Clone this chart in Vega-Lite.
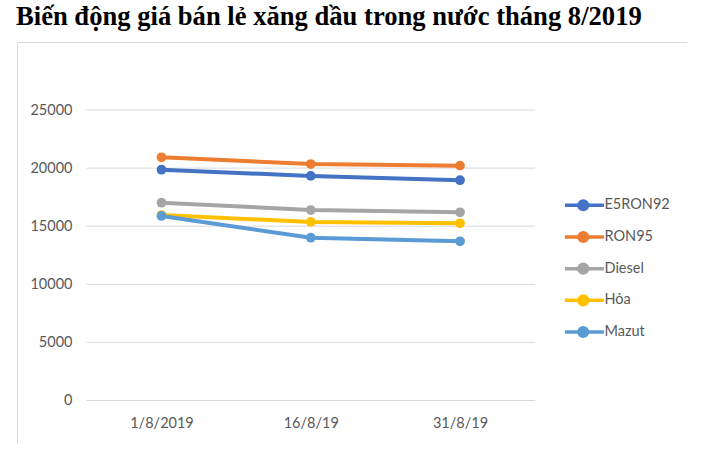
{
  "$schema": "https://vega.github.io/schema/vega-lite/v6.json",
  "width": 670,
  "height": 402,
  "autosize": "none",
  "padding": {"left": 17, "top": 42, "right": 0, "bottom": 0},
  "background": "white",
  "title": {
    "text": "Biến động giá bán lẻ xăng dầu trong nước tháng 8/2019",
    "anchor": "start",
    "frame": "group",
    "font": "Liberation Serif",
    "fontSize": 26.6,
    "fontWeight": "bold",
    "color": "black",
    "baseline": "alphabetic",
    "offset": -10,
    "dx": -1
  },
  "datasets": {
    "prices": [
      {"day": 1, "fuel": "E5RON92", "price": 19860},
      {"day": 16, "fuel": "E5RON92", "price": 19330},
      {"day": 31, "fuel": "E5RON92", "price": 18960},
      {"day": 1, "fuel": "RON95", "price": 20930},
      {"day": 16, "fuel": "RON95", "price": 20350},
      {"day": 31, "fuel": "RON95", "price": 20210},
      {"day": 1, "fuel": "Diesel", "price": 17020},
      {"day": 16, "fuel": "Diesel", "price": 16390},
      {"day": 31, "fuel": "Diesel", "price": 16200},
      {"day": 1, "fuel": "Hỏa", "price": 15960},
      {"day": 16, "fuel": "Hỏa", "price": 15370},
      {"day": 31, "fuel": "Hỏa", "price": 15250},
      {"day": 1, "fuel": "Mazut", "price": 15880},
      {"day": 16, "fuel": "Mazut", "price": 14010},
      {"day": 31, "fuel": "Mazut", "price": 13700}
    ],
    "grid": [
      {"g": 0}, {"g": 5000}, {"g": 10000}, {"g": 15000}, {"g": 20000}, {"g": 25000}
    ]
  },
  "layer": [
    {
      "data": {"name": "grid"},
      "mark": {"type": "rule", "color": "#d9d9d9", "strokeWidth": 1},
      "encoding": {
        "y": {"field": "g", "type": "quantitative", "scale": {"domain": [-3743, 30852], "nice": false, "zero": false}},
        "x": {"datum": -6.52, "type": "quantitative", "scale": {"domain": [-13.52, 53.81], "nice": false, "zero": false}},
        "x2": {"datum": 38.54}
      }
    },
    {
      "data": {"name": "prices"},
      "encoding": {
        "x": {
          "field": "day",
          "type": "quantitative",
          "scale": {"domain": [-13.52, 53.81], "nice": false, "zero": false},
          "axis": {
            "title": null,
            "values": [1, 16, 31],
            "labelExpr": "datum.value == 1 ? '1/8/2019' : datum.value + '/8/19'"
          }
        },
        "y": {
          "field": "price",
          "type": "quantitative",
          "scale": {"domain": [-3743, 30852], "nice": false, "zero": false},
          "axis": {
            "title": null,
            "values": [0, 5000, 10000, 15000, 20000, 25000],
            "format": "d"
          }
        },
        "color": {
          "field": "fuel",
          "type": "nominal",
          "scale": {
            "domain": ["E5RON92", "RON95", "Diesel", "Hỏa", "Mazut"],
            "range": ["#4472C4", "#ED7D31", "#A5A5A5", "#FFC000", "#5B9BD5"]
          },
          "legend": {
            "orient": "none",
            "legendX": 576,
            "legendY": 156,
            "title": null,
            "padding": 0,
            "symbolType": "M-7.06,0L0.74,0M-4.26,0A0.86,0.86,0,1,0,-2.54,0A0.86,0.86,0,1,0,-4.26,0",
            "symbolSize": 100,
            "symbolStrokeWidth": 3.5,
            "labelOffset": -3,
            "rowPadding": 7.7,
            "labelFont": "Lato",
            "labelFontSize": 14.5,
            "labelColor": "#595959",
            "encode": {
              "symbols": {
                "update": {
                  "fill": {"scale": "color", "field": "value"},
                  "opacity": {"value": 1}
                }
              }
            }
          }
        }
      },
      "layer": [
        {"mark": {"type": "line", "strokeWidth": 4}},
        {"mark": {"type": "point", "filled": true, "size": 95, "opacity": 1}}
      ]
    }
  ],
  "config": {
    "view": {"stroke": "#d9d9d9", "strokeWidth": 1},
    "axisX": {
      "domain": false,
      "ticks": false,
      "tickSize": 0,
      "grid": false,
      "offset": -43.5,
      "labelPadding": 15.5,
      "labelFont": "Lato",
      "labelFontSize": 14.5,
      "labelColor": "#595959"
    },
    "axisY": {
      "domain": false,
      "ticks": false,
      "tickSize": 0,
      "grid": false,
      "offset": -55,
      "labelPadding": 0,
      "labelFont": "Lato",
      "labelFontSize": 14.5,
      "labelColor": "#595959"
    }
  }
}
